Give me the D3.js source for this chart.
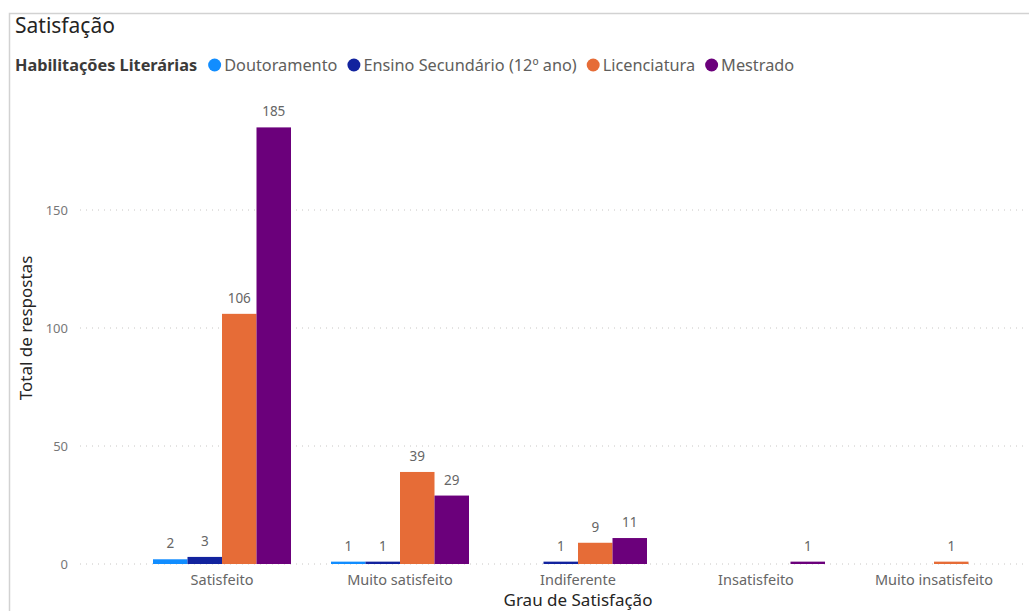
<!DOCTYPE html>
<html>
<head>
<meta charset="utf-8">
<script src="https://cdn.jsdelivr.net/npm/d3@7"></script>
<style>
  html, body { margin: 0; padding: 0; background: #fff; }
  svg { display: block; font-family: "Segoe UI", "Noto Sans", "Open Sans", sans-serif; }
</style>
</head>
<body>
<svg id="chart" width="1029" height="611"></svg>
<script>
// Satisfaction by education level
const categories = ["Satisfeito", "Muito satisfeito", "Indiferente", "Insatisfeito", "Muito insatisfeito"];
const seriesNames = ["Doutoramento", "Ensino Secundário (12º ano)", "Licenciatura", "Mestrado"];
const seriesColors = ["#118DFF", "#12239E", "#E66C37", "#6B007B"];
// one array per education level, aligned with categories (null = no responses)
const doutoramento = [2, 1, null, null, null];
const ensinoSecundario = [3, 1, 1, null, null];
const licenciatura = [106, 39, 9, null, 1];
const mestrado = [185, 29, 11, 1, null];
const yTicks = [0, 50, 100, 150];

const seriesValues = [doutoramento, ensinoSecundario, licenciatura, mestrado];

const svg = d3.select("#chart");

// visual frame
svg.append("path")
  .attr("d", "M9.5,611 V13.5 H1029")
  .attr("fill", "none")
  .attr("stroke", "#d2d2d2")
  .attr("stroke-width", 1.5);

// title
svg.append("text")
  .attr("x", 15).attr("y", 33)
  .attr("font-size", 21)
  .attr("fill", "#252423")
  .text("Satisfação");

// legend
const legend = svg.append("g").attr("transform", "translate(15,65)");
const legendTitle = legend.append("text")
  .attr("x", 0).attr("y", 6)
  .attr("font-size", 16.3)
  .attr("font-weight", "bold")
  .attr("fill", "#3b3a39")
  .text("Habilitações Literárias");
let lx = legendTitle.node().getComputedTextLength() + 11;
seriesNames.forEach((name, i) => {
  legend.append("circle")
    .attr("cx", lx + 6.5).attr("cy", 0).attr("r", 6.5)
    .attr("fill", seriesColors[i]);
  const t = legend.append("text")
    .attr("x", lx + 16).attr("y", 6)
    .attr("font-size", 16.3)
    .attr("fill", "#605e5c")
    .text(name);
  lx += 16 + t.node().getComputedTextLength() + 10;
});

// scales
const x0 = d3.scaleBand()
  .domain(categories)
  .range([133, 1023])
  .paddingInner(40 / 178)
  .paddingOuter(20 / 178);
const x1 = d3.scaleBand()
  .domain(seriesNames)
  .range([0, x0.bandwidth()]);
const y = d3.scaleLinear()
  .domain([0, 200])
  .range([564, 92]);

// gridlines and y tick labels
const yAxis = svg.append("g");
yAxis.selectAll("line")
  .data(yTicks)
  .join("line")
  .attr("x1", 80).attr("x2", 1028)
  .attr("y1", d => y(d)).attr("y2", d => y(d))
  .attr("stroke", "#c8c6c4")
  .attr("stroke-width", 1)
  .attr("stroke-dasharray", "1,5");
yAxis.selectAll("text")
  .data(yTicks)
  .join("text")
  .attr("x", 68).attr("y", d => y(d) + 4.5)
  .attr("text-anchor", "end")
  .attr("font-size", 13)
  .attr("fill", "#777")
  .text(d => d);

// y axis title
svg.append("text")
  .attr("transform", "translate(32," + y(100) + ") rotate(-90)")
  .attr("text-anchor", "middle")
  .attr("font-size", 17)
  .attr("fill", "#252423")
  .text("Total de respostas");

// bars
const bars = [];
categories.forEach((c, ci) => {
  seriesNames.forEach((s, si) => {
    const v = seriesValues[si][ci];
    if (v != null) bars.push({ category: c, series: s, index: si, value: v });
  });
});

const barG = svg.append("g");
barG.selectAll("rect")
  .data(bars)
  .join("rect")
  .attr("x", d => x0(d.category) + x1(d.series))
  .attr("width", x1.bandwidth())
  .attr("y", d => y(d.value))
  .attr("height", d => y(0) - y(d.value))
  .attr("fill", d => seriesColors[d.index]);

// data labels
barG.selectAll("text")
  .data(bars)
  .join("text")
  .attr("x", d => x0(d.category) + x1(d.series) + x1.bandwidth() / 2)
  .attr("y", d => y(d.value) - 11)
  .attr("text-anchor", "middle")
  .attr("font-size", 13.5)
  .attr("fill", "#666")
  .text(d => d.value);

// x category labels
svg.append("g")
  .selectAll("text")
  .data(categories)
  .join("text")
  .attr("x", d => x0(d) + x0.bandwidth() / 2)
  .attr("y", 585)
  .attr("text-anchor", "middle")
  .attr("font-size", 14.5)
  .attr("fill", "#666")
  .text(d => d);

// x axis title
svg.append("text")
  .attr("x", (x0.range()[0] + x0.range()[1]) / 2)
  .attr("y", 606)
  .attr("text-anchor", "middle")
  .attr("font-size", 17)
  .attr("fill", "#252423")
  .text("Grau de Satisfação");
</script>
</body>
</html>
